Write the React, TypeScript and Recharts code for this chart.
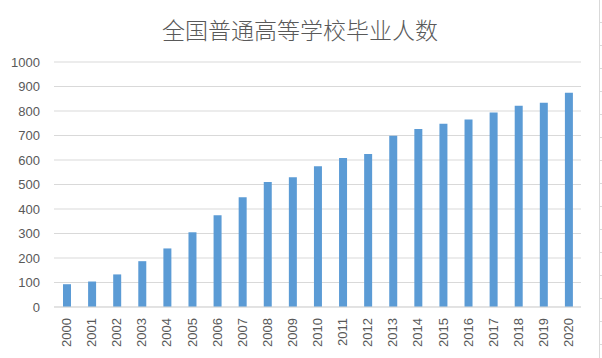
import React from 'react';
import { BarChart, Bar, XAxis, YAxis, CartesianGrid } from 'recharts';

const years = ['2000','2001','2002','2003','2004','2005','2006','2007','2008','2009','2010','2011','2012','2013','2014','2015','2016','2017','2018','2019','2020'];
const graduates = [93, 104, 133, 187, 239, 305, 375, 448, 510, 530, 575, 608, 625, 699, 727, 748, 765, 794, 821, 834, 874];
const yTicks = [0, 100, 200, 300, 400, 500, 600, 700, 800, 900, 1000];
const title = '全国普通高等学校毕业人数';

const data = years.map((y, i) => ({ year: y, value: graduates[i] }));

const XTick = (props: any) => {
  const { x, y, payload } = props;
  return (
    <text
      transform={`translate(${x},${y + 11}) rotate(-90)`}
      textAnchor="end"
      dy="0.35em"
      fontSize={13}
      fill="#595959"
      fontFamily="'Liberation Sans', Arial, sans-serif"
    >
      {payload.value}
    </text>
  );
};

export default function App() {
  return (
    <div style={{ position: 'absolute', left: 0, top: 0, width: 602, height: 358, background: '#fff', overflow: 'hidden' }}>
      <div
        style={{
          position: 'absolute',
          left: 0,
          width: 600,
          top: 12,
          textAlign: 'center',
          fontSize: 23,
          fontWeight: 300,
          lineHeight: '34px',
          color: '#595959',
          fontFamily: "'Noto Sans CJK SC', sans-serif",
        }}
      >
        {title}
      </div>
      <BarChart
        width={602}
        height={358}
        data={data}
        margin={{ top: 62, right: 21, bottom: 0, left: 0 }}
      >
        <CartesianGrid vertical={false} stroke="#d9d9d9" />
        <XAxis
          dataKey="year"
          height={51}
          interval={0}
          tickLine={false}
          tickSize={0}
          tickMargin={0}
          axisLine={{ stroke: '#d9d9d9' }}
          tick={<XTick />}
        />
        <YAxis
          width={54}
          domain={[0, 1000]}
          ticks={yTicks}
          interval={0}
          axisLine={false}
          tickLine={false}
          tickSize={0}
          tickMargin={14}
          tick={{ fontSize: 13, fill: '#595959', fontFamily: "'Liberation Sans', Arial, sans-serif" }}
        />
        <Bar dataKey="value" fill="#5B9BD5" barSize={8} isAnimationActive={false} />
      </BarChart>
      <div style={{ position: 'absolute', left: 599, top: 0, width: 1, height: 358, background: '#d9d9d9' }} />
      <div
        style={{
          position: 'absolute',
          left: 600,
          top: 0,
          width: 2,
          height: 358,
          background: 'repeating-linear-gradient(to bottom, transparent 0px, transparent 22px, #d9d9d9 22px, #d9d9d9 23px)',
        }}
      />
    </div>
  );
}
